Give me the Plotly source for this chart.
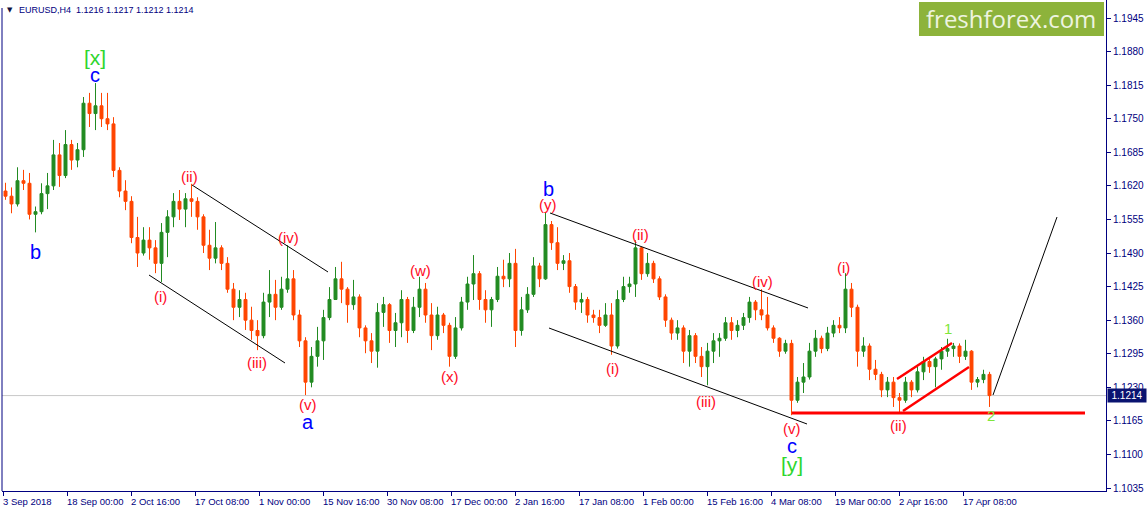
import plotly.graph_objects as go

# ---------------- data (daily aggregation of EURUSD H4) ----------------
opens = [1.1610,1.1600,1.1585,1.1630,1.1625,1.1565,1.1570,1.1605,1.1620,1.1680,
         1.1640,1.1700,1.1670,1.1690,1.1780,1.1760,1.1775,1.1750,1.1740,1.1650,
         1.1610,1.1590,1.1520,1.1490,1.1515,1.1500,1.1470,1.1530,1.1560,1.1590,
         1.1575,1.1595,1.1590,1.1560,1.1505,1.1480,1.1500,1.1470,1.1420,1.1385,
         1.1400,1.1360,1.1340,1.1330,1.1395,1.1410,1.1385,1.1420,1.1440,1.1370,
         1.1320,1.1240,1.1290,1.1320,1.1365,1.1400,1.1440,1.1420,1.1390,1.1405,
         1.1345,1.1320,1.1300,1.1375,1.1390,1.1340,1.1355,1.1400,1.1340,1.1385,
         1.1420,1.1370,1.1330,1.1370,1.1350,1.1290,1.1345,1.1395,1.1430,1.1450,
         1.1400,1.1380,1.1400,1.1445,1.1440,1.1470,1.1340,1.1380,1.1410,1.1465,
         1.1440,1.1545,1.1510,1.1470,1.1475,1.1425,1.1395,1.1400,1.1370,1.1365,
         1.1350,1.1370,1.1310,1.1400,1.1425,1.1430,1.1500,1.1450,1.1470,1.1440,
         1.1405,1.1360,1.1335,1.1345,1.1300,1.1330,1.1290,1.1270,1.1300,1.1320,
         1.1325,1.1355,1.1340,1.1350,1.1365,1.1395,1.1380,1.1370,1.1345,1.1325,
         1.1300,1.1315,1.1205,1.1240,1.1250,1.1300,1.1325,1.1305,1.1335,1.1350,
         1.1345,1.1420,1.1385,1.1300,1.1310,1.1265,1.1255,1.1225,1.1240,1.1210,
         1.1205,1.1240,1.1225,1.1260,1.1280,1.1270,1.1285,1.1300,1.1305,1.1310,
         1.1290,1.1300,1.1240,1.1245,1.1255]
highs = [1.1626,1.1617,1.1656,1.1651,1.1645,1.1580,1.1625,1.1645,1.1709,1.1703,
         1.1728,1.1709,1.1703,1.1792,1.1800,1.1819,1.1800,1.1800,1.1753,1.1656,
         1.1631,1.1600,1.1560,1.1540,1.1540,1.1515,1.1548,1.1573,1.1606,1.1612,
         1.1606,1.1624,1.1598,1.1565,1.1535,1.1550,1.1505,1.1482,1.1432,1.1418,
         1.1413,1.1386,1.1360,1.1413,1.1457,1.1438,1.1444,1.1505,1.1457,1.1380,
         1.1327,1.1308,1.1347,1.1380,1.1424,1.1463,1.1473,1.1424,1.1438,1.1410,
         1.1350,1.1335,1.1393,1.1405,1.1393,1.1374,1.1418,1.1405,1.1405,1.1444,
         1.1432,1.1393,1.1386,1.1374,1.1355,1.1366,1.1405,1.1444,1.1486,1.1455,
         1.1418,1.1405,1.1463,1.1477,1.1490,1.1498,1.1405,1.1424,1.1482,1.1471,
         1.1569,1.1552,1.1540,1.1486,1.1490,1.1430,1.1413,1.1405,1.1380,1.1380,
         1.1393,1.1393,1.1418,1.1444,1.1444,1.1515,1.1502,1.1490,1.1475,1.1445,
         1.1410,1.1365,1.1360,1.1350,1.1341,1.1335,1.1308,1.1316,1.1335,1.1335,
         1.1366,1.1366,1.1360,1.1374,1.1405,1.1399,1.1420,1.1405,1.1350,1.1327,
         1.1322,1.1322,1.1250,1.1277,1.1316,1.1341,1.1330,1.1347,1.1360,1.1366,
         1.1451,1.1432,1.1390,1.1327,1.1315,1.1283,1.1260,1.1250,1.1250,1.1219,
         1.1250,1.1244,1.1270,1.1289,1.1289,1.1289,1.1308,1.1324,1.1316,1.1315,
         1.1322,1.1302,1.1250,1.1264,1.1260]
lows = [1.1593,1.1567,1.1580,1.1612,1.1555,1.1530,1.1565,1.1575,1.1612,1.1618,
        1.1635,1.1651,1.1656,1.1676,1.1734,1.1728,1.1734,1.1728,1.1637,1.1598,
        1.1573,1.1509,1.1463,1.1485,1.1477,1.1451,1.1434,1.1482,1.1540,1.1554,
        1.1540,1.1560,1.1535,1.1490,1.1457,1.1470,1.1457,1.1413,1.1360,1.1366,
        1.1341,1.1322,1.1302,1.1325,1.1366,1.1360,1.1380,1.1413,1.1360,1.1308,
        1.1215,1.1230,1.1270,1.1283,1.1360,1.1399,1.1393,1.1355,1.1380,1.1327,
        1.1296,1.1277,1.1268,1.1347,1.1316,1.1308,1.1327,1.1316,1.1335,1.1366,
        1.1355,1.1302,1.1322,1.1335,1.1270,1.1285,1.1340,1.1380,1.1399,1.1380,
        1.1355,1.1347,1.1395,1.1424,1.1424,1.1308,1.1330,1.1374,1.1405,1.1424,
        1.1438,1.1496,1.1457,1.1457,1.1413,1.1380,1.1374,1.1355,1.1355,1.1335,
        1.1347,1.1293,1.1305,1.1395,1.1413,1.1405,1.1438,1.1444,1.1432,1.1399,
        1.1347,1.1322,1.1322,1.1277,1.1270,1.1277,1.1250,1.1234,1.1277,1.1289,
        1.1320,1.1322,1.1327,1.1341,1.1355,1.1360,1.1360,1.1340,1.1316,1.1289,
        1.1295,1.1176,1.1200,1.1219,1.1245,1.1289,1.1296,1.1300,1.1327,1.1335,
        1.1335,1.1366,1.1270,1.1289,1.1244,1.1244,1.1211,1.1211,1.1192,1.1182,
        1.1200,1.1211,1.1220,1.1244,1.1258,1.1230,1.1264,1.1289,1.1289,1.1277,
        1.1283,1.1225,1.1230,1.1238,1.1192]
closes = [1.1600,1.1585,1.1630,1.1625,1.1565,1.1570,1.1605,1.1620,1.1680,1.1640,
          1.1700,1.1670,1.1690,1.1780,1.1760,1.1775,1.1750,1.1740,1.1650,1.1610,
          1.1590,1.1520,1.1490,1.1515,1.1500,1.1470,1.1530,1.1560,1.1590,1.1575,
          1.1595,1.1590,1.1560,1.1505,1.1480,1.1500,1.1470,1.1420,1.1385,1.1400,
          1.1360,1.1340,1.1330,1.1395,1.1410,1.1385,1.1420,1.1440,1.1370,1.1320,
          1.1240,1.1290,1.1320,1.1365,1.1400,1.1440,1.1420,1.1390,1.1405,1.1345,
          1.1320,1.1300,1.1375,1.1390,1.1340,1.1355,1.1400,1.1340,1.1385,1.1420,
          1.1370,1.1330,1.1370,1.1350,1.1290,1.1345,1.1395,1.1430,1.1450,1.1400,
          1.1380,1.1400,1.1445,1.1440,1.1470,1.1340,1.1380,1.1410,1.1465,1.1440,
          1.1545,1.1510,1.1470,1.1475,1.1425,1.1395,1.1400,1.1370,1.1365,1.1350,
          1.1370,1.1310,1.1400,1.1425,1.1430,1.1500,1.1450,1.1470,1.1440,1.1405,
          1.1360,1.1335,1.1345,1.1300,1.1330,1.1290,1.1270,1.1300,1.1320,1.1325,
          1.1355,1.1340,1.1350,1.1365,1.1395,1.1380,1.1370,1.1345,1.1325,1.1300,
          1.1315,1.1205,1.1240,1.1250,1.1300,1.1325,1.1305,1.1335,1.1350,1.1345,
          1.1420,1.1385,1.1300,1.1310,1.1265,1.1255,1.1225,1.1240,1.1210,1.1205,
          1.1240,1.1225,1.1260,1.1280,1.1270,1.1285,1.1300,1.1305,1.1310,1.1290,
          1.1300,1.1240,1.1245,1.1255,1.1214]

BARS_PER_DAY = 6
day_x = [BARS_PER_DAY * i + 2.5 for i in range(len(closes))]

x_tick_bars = [0, 64, 128, 192, 256, 320, 384, 448, 512, 576, 640, 704, 768, 832, 896, 960]
x_tick_labels = ["3 Sep 2018", "18 Sep 00:00", "2 Oct 16:00", "17 Oct 08:00", "1 Nov 00:00",
                 "15 Nov 16:00", "30 Nov 08:00", "17 Dec 00:00", "2 Jan 16:00", "17 Jan 08:00",
                 "1 Feb 00:00", "15 Feb 16:00", "4 Mar 08:00", "19 Mar 00:00", "2 Apr 16:00",
                 "17 Apr 08:00"]
y_tick_vals = [1.1035, 1.1100, 1.1165, 1.1230, 1.1295, 1.1360, 1.1425, 1.1490,
               1.1555, 1.1620, 1.1685, 1.1750, 1.1815, 1.1880, 1.1945]
y_tick_labels = ["1.1035", "1.1100", "1.1165", "1.1230", "1.1295", "1.1360", "1.1425", "1.1490",
                 "1.1555", "1.1620", "1.1685", "1.1750", "1.1815", "1.1880", "1.1945"]

bid_price = 1.1214
header_text = "EURUSD,H4  1.1216 1.1217 1.1212 1.1214"

# wave labels: (bar, price, text, kind)
wave_labels = [
    (92, 1.18695, "[x]", "g"), (92, 1.18346, "c", "b"), (32, 1.14920, "b", "b"),
    (157, 1.14049, "(i)", "r"), (186, 1.16372, "(ii)", "r"), (254, 1.12790, "(iii)", "r"),
    (285, 1.15210, "(iv)", "r"), (305, 1.11958, "(v)", "r"), (305, 1.11629, "a", "b"),
    (417, 1.14571, "(w)", "r"), (447, 1.12500, "(x)", "r"),
    (545, 1.16140, "b", "b"), (545, 1.15849, "(y)", "r"),
    (637, 1.15268, "(ii)", "r"), (609, 1.12674, "(i)", "r"), (703, 1.12035, "(iii)", "r"),
    (759, 1.14358, "(iv)", "r"), (789, 1.11512, "(v)", "r"), (789, 1.11164, "c", "b"),
    (789, 1.10815, "[y]", "g"), (840, 1.14629, "(i)", "r"), (895, 1.11570, "(ii)", "r"),
    (945, 1.13448, "1", "l"), (988, 1.11764, "2", "l"),
]
# trend lines: (bar0, price0, bar1, price1, style)
trend_lines = [
    (189, 1.16217, 325, 1.14533, "k"), (146, 1.14474, 282, 1.12771, "k"),
    (547, 1.15675, 805, 1.13836, "k"), (546, 1.13448, 804, 1.11590, "k"),
    (789, 1.11803, 1082, 1.11803, "R"),
    (894, 1.12461, 949, 1.13158, "r"), (900, 1.11842, 966, 1.12693, "r"),
    (990, 1.12151, 1054, 1.15597, "k"),
]

# ---------------- styling ----------------
W, H = 1147, 512
L, R, T, B = 2, 1106, 0, 491
PX_PER_PRICE = 1 / 0.0001936
def price_at(py):
    return 1.1945 - (py - 18) / PX_PER_PRICE
def xp(px):
    return (px - L) / (R - L)
def yp(py):
    return (B - py) / (B - T)

NAVY = "#000080"
GREEN = "#228b22"
ORANGE = "#ff4500"
FONT = "Liberation Sans"

fig = go.Figure()
fig.add_trace(go.Candlestick(
    x=day_x, open=opens, high=highs, low=lows, close=closes,
    increasing=dict(line=dict(color=GREEN, width=1), fillcolor=GREEN),
    decreasing=dict(line=dict(color=ORANGE, width=1), fillcolor=ORANGE),
    whiskerwidth=0, showlegend=False, hoverinfo="skip",
))

shapes = []
shapes.append(dict(type="line", xref="x", yref="y", x0=-1, x1=1103, y0=bid_price, y1=bid_price,
                   line=dict(color="#c8c8c8", width=1), layer="below"))
for b0, p0, b1, p1, st in trend_lines:
    if st == "k":
        ln = dict(color="black", width=1)
    elif st == "R":
        ln = dict(color="#ff0000", width=3)
    else:
        ln = dict(color="#ff0000", width=2.5)
    shapes.append(dict(type="line", xref="x", yref="y", x0=b0, y0=p0, x1=b1, y1=p1, line=ln))
shapes.append(dict(type="line", xref="paper", yref="paper", x0=0, x1=0, y0=0, y1=yp(8),
                   line=dict(color=NAVY, width=1)))
shapes.append(dict(type="rect", xref="paper", yref="paper", x0=xp(919), x1=xp(1104),
                   y0=yp(36), y1=yp(2), fillcolor="#8db33b", line=dict(width=0)))
fig.update_layout(shapes=shapes)

ann = []
colors = {"r": "#ff0a1e", "b": "#0000ff", "g": "#2ed62e", "l": "#7fe63a"}
sizes = {"r": 15, "b": 20, "g": 21, "l": 15}
for bx, pr, txt, kind in wave_labels:
    ann.append(dict(x=bx, y=pr, xref="x", yref="y", text=txt, showarrow=False,
                    font=dict(family=FONT, size=sizes[kind], color=colors[kind]),
                    xanchor="center", yanchor="middle"))
for bx, lab in zip(x_tick_bars, x_tick_labels):
    ann.append(dict(x=bx, y=yp(501), xref="x", yref="paper", text=lab, showarrow=False,
                    font=dict(family=FONT, size=9.5, color=NAVY), xanchor="left",
                    yanchor="middle", xshift=-2))
ann.append(dict(x=xp(5), y=yp(10), xref="paper", yref="paper", text="▼", showarrow=False,
                font=dict(family="DejaVu Sans", size=7, color="#101040"), xanchor="left", yanchor="middle"))
ann.append(dict(x=xp(17), y=yp(10), xref="paper", yref="paper", text=header_text, showarrow=False,
                font=dict(family=FONT, size=9, color=NAVY), xanchor="left", yanchor="middle"))
ann.append(dict(x=xp(1011), y=yp(19), xref="paper", yref="paper", text="freshforex.com",
                showarrow=False, font=dict(family="Open Sans", size=24, color="#eef4e0"),
                xanchor="center", yanchor="middle"))
ann.append(dict(x=xp(1107), y=bid_price, xref="paper", yref="y", text="1.1214", showarrow=False,
                font=dict(family=FONT, size=10, color="white"), bgcolor="#0a1370",
                xanchor="left", yanchor="middle", width=36, height=11, borderpad=1, align="center"))
fig.update_layout(annotations=ann)

fig.update_layout(
    width=W, height=H, margin=dict(l=L, r=W - R, t=T, b=H - B, pad=0),
    paper_bgcolor="white", plot_bgcolor="white", showlegend=False,
    xaxis=dict(range=[-1, 1103], showgrid=False, zeroline=False, showline=True,
               linecolor=NAVY, linewidth=1, ticks="outside", ticklen=4, tickcolor=NAVY,
               tickvals=x_tick_bars, showticklabels=False, rangeslider=dict(visible=False),
               fixedrange=True),
    yaxis=dict(range=[price_at(B), price_at(T)], side="right", showgrid=False, zeroline=False,
               showline=True, linecolor=NAVY, linewidth=1, ticks="outside", ticklen=4,
               tickcolor=NAVY, tickvals=y_tick_vals, ticktext=y_tick_labels,
               tickfont=dict(family=FONT, size=10, color=NAVY), fixedrange=True),
)

fig.write_html("out.html", config={"displayModeBar": False},
               post_script="document.body.style.margin='0';document.body.style.overflow='hidden';")
